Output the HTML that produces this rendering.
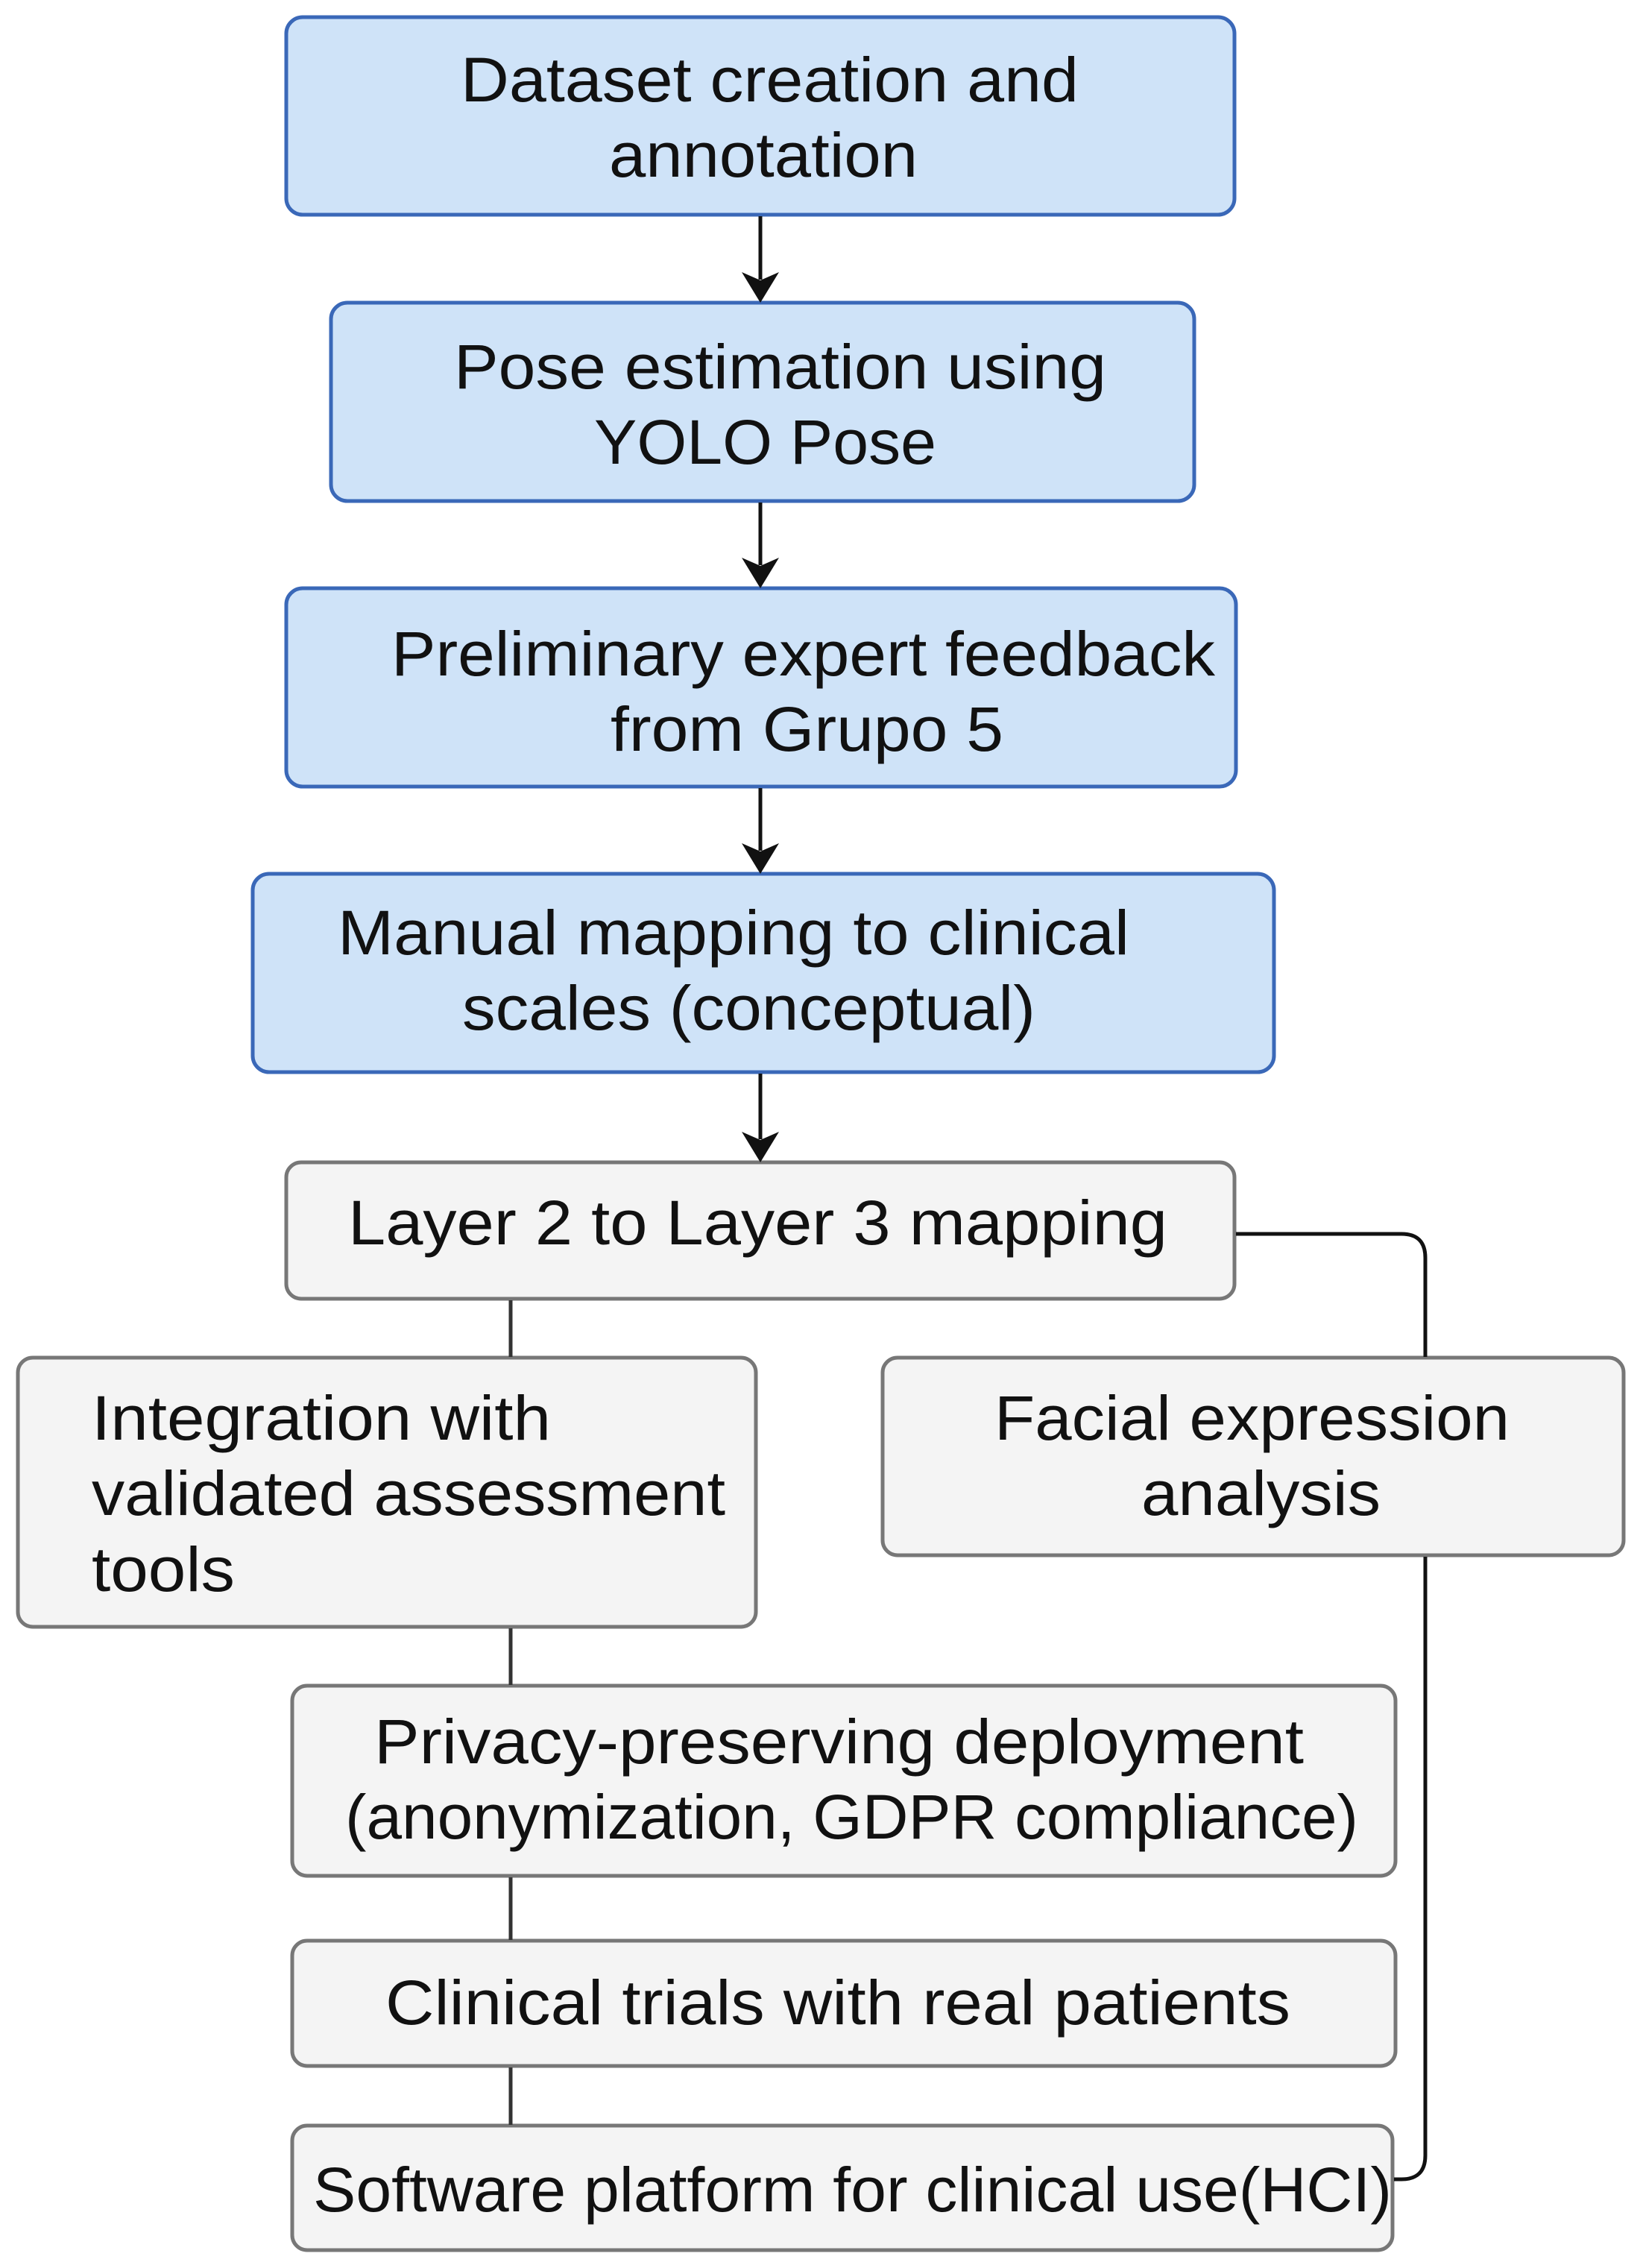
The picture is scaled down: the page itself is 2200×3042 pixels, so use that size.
<!DOCTYPE html>
<html><head><meta charset="utf-8"><style>
html,body{margin:0;padding:0;background:#fff;}
svg{display:block;}
text{font-family:"Liberation Sans",sans-serif;font-size:84px;fill:#111;}
</style></head><body>
<svg width="2200" height="3042" viewBox="0 0 2200 3042" xmlns="http://www.w3.org/2000/svg">
<g fill="#cfe3f8" stroke="#3a68b8" stroke-width="5">
<rect x="384" y="23" width="1272" height="265" rx="22"/>
<rect x="444" y="406" width="1158" height="266" rx="22"/>
<rect x="384" y="789" width="1274" height="266" rx="22"/>
<rect x="339" y="1172" width="1370" height="266" rx="22"/>
</g>
<g fill="#f4f4f4" stroke="#777" stroke-width="5">
<rect x="384" y="1559" width="1272" height="183" rx="20"/>
<rect x="24" y="1821" width="990" height="361" rx="20"/>
<rect x="1184" y="1821" width="994" height="265" rx="20"/>
<rect x="392" y="2261" width="1480" height="255" rx="20"/>
<rect x="392" y="2603" width="1480" height="168" rx="20"/>
<rect x="392" y="2851" width="1476" height="167" rx="20"/>
</g>
<g stroke="#111" stroke-width="5" fill="none">
<line x1="1020" y1="290" x2="1020" y2="375"/>
<line x1="1020" y1="674" x2="1020" y2="758"/>
<line x1="1020" y1="1057" x2="1020" y2="1141"/>
<line x1="1020" y1="1440" x2="1020" y2="1528"/>
<path d="M1658 1655 H1880 Q1912 1655 1912 1687 V1820"/>
<path d="M1912 2088 V2891 Q1912 2923 1880 2923 H1870"/>
</g>
<g stroke="#333" stroke-width="5">
<line x1="685" y1="1744" x2="685" y2="1820"/>
<line x1="685" y1="2184" x2="685" y2="2260"/>
<line x1="685" y1="2518" x2="685" y2="2602"/>
<line x1="685" y1="2773" x2="685" y2="2850"/>
</g>
<g fill="#111">
<path d="M995 365 L1020 406 L1045 365 L1020 376 Z"/>
<path d="M995 748 L1020 789 L1045 748 L1020 759 Z"/>
<path d="M995 1131 L1020 1172 L1045 1131 L1020 1142 Z"/>
<path d="M995 1518 L1020 1559 L1045 1518 L1020 1529 Z"/>
</g>
<g>
<text x="618" y="136" textLength="829" lengthAdjust="spacingAndGlyphs">Dataset creation and</text>
<text x="817" y="237" textLength="414" lengthAdjust="spacingAndGlyphs">annotation</text>
<text x="609" y="521" textLength="875" lengthAdjust="spacingAndGlyphs">Pose estimation using</text>
<text x="797" y="622" textLength="459" lengthAdjust="spacingAndGlyphs">YOLO Pose</text>
<text x="525" y="906" textLength="1105" lengthAdjust="spacingAndGlyphs">Preliminary expert feedback</text>
<text x="819" y="1007" textLength="527" lengthAdjust="spacingAndGlyphs">from Grupo 5</text>
<text x="453" y="1280" textLength="1062" lengthAdjust="spacingAndGlyphs">Manual mapping to clinical</text>
<text x="620" y="1381" textLength="769" lengthAdjust="spacingAndGlyphs">scales (conceptual)</text>
<text x="467" y="1669" textLength="1099" lengthAdjust="spacingAndGlyphs">Layer 2 to Layer 3 mapping</text>
<text x="123" y="1931" textLength="616" lengthAdjust="spacingAndGlyphs">Integration with</text>
<text x="123" y="2032" textLength="850" lengthAdjust="spacingAndGlyphs">validated assessment</text>
<text x="123" y="2134" textLength="192" lengthAdjust="spacingAndGlyphs">tools</text>
<text x="1334" y="1931" textLength="691" lengthAdjust="spacingAndGlyphs">Facial expression</text>
<text x="1531" y="2032" textLength="321" lengthAdjust="spacingAndGlyphs">analysis</text>
<text x="502" y="2365" textLength="1247" lengthAdjust="spacingAndGlyphs">Privacy-preserving deployment</text>
<text x="463" y="2466" textLength="1359" lengthAdjust="spacingAndGlyphs">(anonymization, GDPR compliance)</text>
<text x="517" y="2715" textLength="1214" lengthAdjust="spacingAndGlyphs">Clinical trials with real patients</text>
<text x="420" y="2966" textLength="1447" lengthAdjust="spacingAndGlyphs">Software platform for clinical use(HCI)</text>
</g>
</svg>
</body></html>
